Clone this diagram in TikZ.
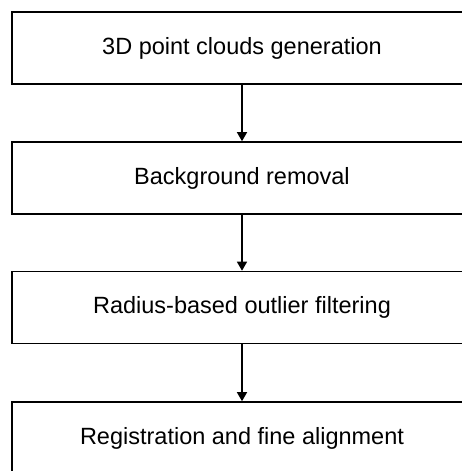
\documentclass[tikz,border=0pt]{standalone}
\usepackage{fontspec}
\setmainfont{Liberation Sans}
\usetikzlibrary{arrows.meta}
\begin{document}
\begin{tikzpicture}[x=1pt,y=-1pt,
  stepbox/.style={draw=black,line width=1.6pt,minimum width=460pt,minimum height=72pt,inner sep=0pt,font=\fontsize{23.5}{27}\selectfont},
  conn/.style={line width=1.4pt,-{Triangle[width=10pt,length=9pt]}}]
\useasboundingbox (0,0) rectangle (462,471);
\node[stepbox] (a) at (242,48) {3D point clouds generation};
\node[stepbox] (b) at (242,178) {Background removal};
\node[stepbox] (c) at (242,307.5) {Radius-based outlier filtering};
\node[stepbox] (d) at (242,438) {Registration and fine alignment};
\draw[conn] (a) -- (b);
\draw[conn] (b) -- (c);
\draw[conn] (c) -- (d);
\end{tikzpicture}
\end{document}
